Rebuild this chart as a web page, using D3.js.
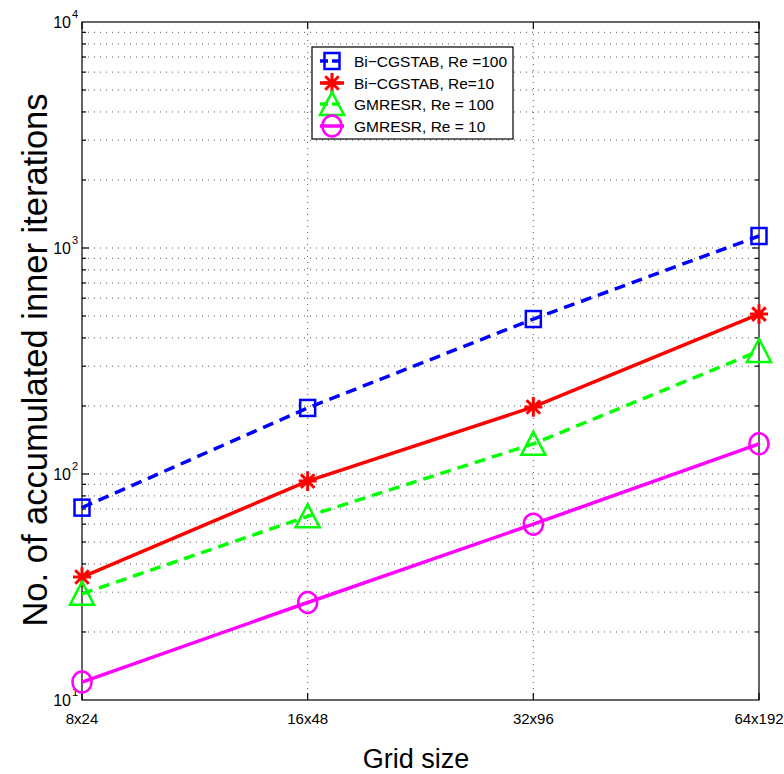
<!DOCTYPE html>
<html><head><meta charset="utf-8">
<script src="https://cdn.jsdelivr.net/npm/d3@7/dist/d3.min.js"></script>
<style>body{margin:0;background:#fff;} svg{display:block;font-family:"Liberation Sans",Arial,sans-serif;}</style>
</head><body>
<script>
const categories = ["8x24", "16x48", "32x96", "64x192"];
const bicgstabRe100 = [71, 196, 485, 1130];
const bicgstabRe10 = [35, 93, 198, 510];
const gmresrRe100 = [29.5, 65, 136, 350];
const gmresrRe10 = [12, 27, 60, 136];
const seriesNames = ["Bi\u2212CGSTAB, Re =100", "Bi\u2212CGSTAB, Re=10", "GMRESR, Re = 100", "GMRESR, Re = 10"];
const yTickExps = [1, 2, 3, 4];

const series = [
  {name: seriesNames[0], values: bicgstabRe100, color: "#0000ff", dash: "11,7", marker: "square"},
  {name: seriesNames[1], values: bicgstabRe10, color: "#ff0000", dash: null, marker: "star"},
  {name: seriesNames[2], values: gmresrRe100, color: "#00ff00", dash: "11,7", marker: "triangle"},
  {name: seriesNames[3], values: gmresrRe10, color: "#ff00ff", dash: null, marker: "circle"}
];

const W = 784, H = 774;
const L = 82, R = 759, T = 22, B = 700;
const svg = d3.select("body").append("svg").attr("width", W).attr("height", H);

const x = d3.scalePoint().domain(categories).range([L, R]);
const y = d3.scaleLog().domain([10, 10000]).range([B, T]);

// grid
const minorVals = [];
for (let e = 1; e < 4; e++) for (let m = 1; m <= 9; m++) minorVals.push(m * Math.pow(10, e));
const grid = svg.append("g");
grid.selectAll("line.h").data(minorVals.filter(v => v > 10)).enter().append("line")
  .attr("x1", L).attr("x2", R).attr("y1", d => y(d)).attr("y2", d => y(d))
  .attr("stroke", "#555").attr("stroke-width", 1).attr("stroke-dasharray", "1,5");
grid.selectAll("line.v").data(categories.slice(1, -1)).enter().append("line")
  .attr("x1", d => x(d)).attr("x2", d => x(d)).attr("y1", T).attr("y2", B)
  .attr("stroke", "#555").attr("stroke-width", 1).attr("stroke-dasharray", "1,5");

// axes box
const ax = svg.append("g").attr("stroke", "#000").attr("stroke-width", 1.2);
ax.append("rect").attr("x", L).attr("y", T).attr("width", R - L).attr("height", B - T).attr("fill", "none");
minorVals.forEach(v => {
  if (v === 10) return;
  const major = Math.log10(v) % 1 === 0;
  const len = major ? 7 : 4;
  ax.append("line").attr("x1", L).attr("x2", L + len).attr("y1", y(v)).attr("y2", y(v));
  ax.append("line").attr("x1", R).attr("x2", R - len).attr("y1", y(v)).attr("y2", y(v));
});
categories.forEach(c => {
  ax.append("line").attr("x1", x(c)).attr("x2", x(c)).attr("y1", B).attr("y2", B - 7);
  ax.append("line").attr("x1", x(c)).attr("x2", x(c)).attr("y1", T).attr("y2", T + 7);
});

// y tick labels
yTickExps.forEach(e => {
  svg.append("text").attr("x", 71).attr("y", y(Math.pow(10, e)) + 6)
    .attr("text-anchor", "end").attr("font-size", 16).attr("fill", "#000").text("10");
  svg.append("text").attr("x", 72).attr("y", y(Math.pow(10, e)) - 4)
    .attr("font-size", 11).attr("fill", "#000").text(e);
});
// x tick labels
svg.selectAll("text.xt").data(categories).enter().append("text")
  .attr("x", d => x(d)).attr("y", 724).attr("text-anchor", "middle")
  .attr("font-size", 15).attr("fill", "#000").text(d => d);

// axis titles
svg.append("text").attr("x", 416).attr("y", 768).attr("text-anchor", "middle")
  .attr("font-size", 27).attr("fill", "#000").text("Grid size");
svg.append("text").attr("transform", "translate(47,360) rotate(-90)").attr("text-anchor", "middle")
  .attr("font-size", 34.5).attr("fill", "#000").text("No. of accumulated inner iterations");

// markers
function drawMarker(g, type, cx, cy, color) {
  const sw = 2.5;
  if (type === "square") {
    g.append("rect").attr("x", cx - 7.5).attr("y", cy - 8).attr("width", 15).attr("height", 16)
      .attr("fill", "none").attr("stroke", color).attr("stroke-width", sw);
  } else if (type === "circle") {
    g.append("ellipse").attr("cx", cx).attr("cy", cy).attr("rx", 9.5).attr("ry", 10.5)
      .attr("fill", "none").attr("stroke", color).attr("stroke-width", sw);
  } else if (type === "triangle") {
    g.append("path").attr("d", `M${cx},${cy - 12}L${cx + 12},${cy + 11}L${cx - 12},${cy + 11}Z`)
      .attr("fill", "none").attr("stroke", color).attr("stroke-width", sw);
  } else if (type === "star") {
    const r = 9;
    const d = `M${cx - r},${cy}L${cx + r},${cy}M${cx},${cy - r * 1.1}L${cx},${cy + r * 1.1}` +
      `M${cx - r * 0.75},${cy - r * 0.75}L${cx + r * 0.75},${cy + r * 0.75}M${cx - r * 0.75},${cy + r * 0.75}L${cx + r * 0.75},${cy - r * 0.75}`;
    g.append("path").attr("d", d).attr("stroke", color).attr("stroke-width", 3).attr("fill", "none");
  }
}

const line = d3.line().x((d, i) => x(categories[i])).y(d => y(d));
series.forEach(s => {
  const g = svg.append("g");
  g.append("path").datum(s.values).attr("d", line).attr("fill", "none")
    .attr("stroke", s.color).attr("stroke-width", 3.5)
    .attr("stroke-dasharray", s.dash);
  s.values.forEach((v, i) => drawMarker(g, s.marker, x(categories[i]), y(v), s.color));
});

// legend
const lg = svg.append("g");
lg.append("rect").attr("x", 312).attr("y", 47).attr("width", 201).attr("height", 92)
  .attr("fill", "#fff").attr("stroke", "#000").attr("stroke-width", 1.2);
const legY = [61, 83, 104, 126];
series.forEach((s, i) => {
  const ly = legY[i];
  lg.append("line").attr("x1", 320).attr("x2", 344).attr("y1", ly).attr("y2", ly)
    .attr("stroke", s.color).attr("stroke-width", 3.5).attr("stroke-dasharray", s.dash ? "8,4" : null);
  drawMarker(lg, s.marker, 332, ly, s.color);
  lg.append("text").attr("x", 354).attr("y", ly + 5.5).attr("font-size", 15.5).attr("fill", "#000").text(s.name);
});
</script>
</body></html>
